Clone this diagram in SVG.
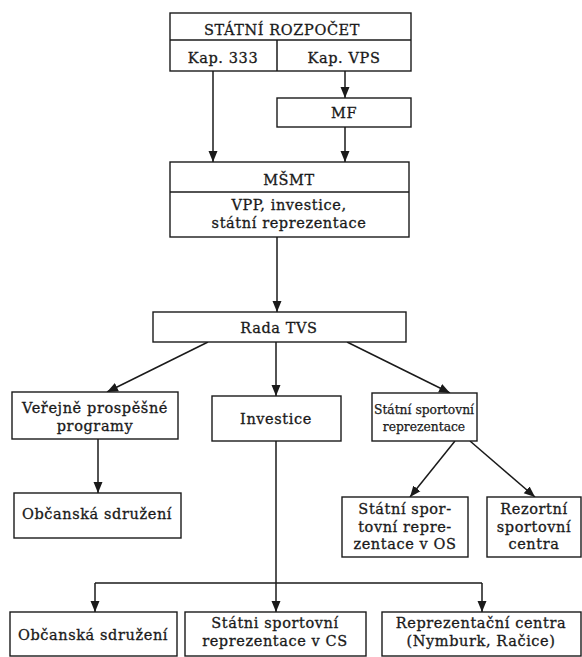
<svg xmlns="http://www.w3.org/2000/svg" width="582" height="657" viewBox="0 0 582 657">
<style>
.b{fill:#fff;stroke:#1a1a1a;stroke-width:1.4}
.t{font-family:"DejaVu Serif","Liberation Serif",serif;font-size:14.5px;letter-spacing:0.6px;fill:#1a1a1a;stroke:#1a1a1a;stroke-width:0.3;text-anchor:middle}
.s{font-size:12.3px;letter-spacing:0;stroke-width:0.25}
.c{stroke:#1a1a1a;stroke-width:1.5;fill:none}
</style>
<defs>
<marker id="a" markerUnits="userSpaceOnUse" markerWidth="12" markerHeight="12" viewBox="0 0 12 12" refX="11" refY="6" orient="auto">
<path d="M0,1.5 L11,6 L0,10.5 Z" fill="#1a1a1a"/>
</marker>
</defs>
<rect width="582" height="657" fill="#fff"/>
<g id="connectors">
<line class="c" x1="213" y1="71" x2="213" y2="162" marker-end="url(#a)"/>
<line class="c" x1="345" y1="71" x2="345" y2="98" marker-end="url(#a)"/>
<line class="c" x1="345" y1="127" x2="345" y2="162" marker-end="url(#a)"/>
<line class="c" x1="277" y1="237" x2="277" y2="312" marker-end="url(#a)"/>
<line class="c" x1="208" y1="342" x2="107" y2="392" marker-end="url(#a)"/>
<line class="c" x1="276" y1="342" x2="276" y2="396" marker-end="url(#a)"/>
<line class="c" x1="347" y1="342" x2="450" y2="393" marker-end="url(#a)"/>
<line class="c" x1="98" y1="439" x2="98" y2="493" marker-end="url(#a)"/>
<line class="c" x1="455" y1="441" x2="410" y2="497" marker-end="url(#a)"/>
<line class="c" x1="470" y1="441" x2="535" y2="497" marker-end="url(#a)"/>
<line class="c" x1="276" y1="441" x2="276" y2="612" marker-end="url(#a)"/>
<line class="c" x1="95" y1="583" x2="482" y2="583"/>
<line class="c" x1="95" y1="583" x2="95" y2="612" marker-end="url(#a)"/>
<line class="c" x1="482" y1="583" x2="482" y2="612" marker-end="url(#a)"/>
</g>
<g id="statni-rozpocet">
<rect class="b" x="170" y="13" width="241" height="58"/>
<line class="c" x1="170" y1="40" x2="411" y2="40" stroke-width="1.4"/>
<line class="c" x1="277" y1="40" x2="277" y2="71" stroke-width="1.4"/>
<text class="t" x="282" y="35" letter-spacing="1.6">STÁTNÍ ROZPOČET</text>
<text class="t" x="223" y="63">Kap. 333</text>
<text class="t" x="344" y="63">Kap. VPS</text>
</g>
<g id="mf">
<rect class="b" x="277" y="98" width="134" height="29"/>
<text class="t" x="344" y="118">MF</text>
</g>
<g id="msmt">
<rect class="b" x="170" y="162" width="239" height="75"/>
<line class="c" x1="170" y1="192" x2="409" y2="192" stroke-width="1.4"/>
<text class="t" x="289" y="185">MŠMT</text>
<text class="t" x="289" y="210">VPP, investice,</text>
<text class="t" x="289" y="228">státní reprezentace</text>
</g>
<g id="rada-tvs">
<rect class="b" x="153" y="312" width="253" height="30"/>
<text class="t" x="279" y="333">Rada TVS</text>
</g>
<g id="verejne">
<rect class="b" x="12" y="392" width="166" height="47"/>
<text class="t" x="95" y="413">Veřejně prospěšné</text>
<text class="t" x="95" y="431">programy</text>
</g>
<g id="investice">
<rect class="b" x="212" y="396" width="129" height="45"/>
<text class="t" x="276" y="424">Investice</text>
</g>
<g id="ssr">
<rect class="b" x="372" y="393" width="105" height="48"/>
<text class="t s" x="424" y="414">Státní sportovní</text>
<text class="t s" x="424" y="431">reprezentace</text>
</g>
<g id="obcanska1">
<rect class="b" x="14" y="493" width="167" height="45"/>
<text class="t" x="97" y="519">Občanská sdružení</text>
</g>
<g id="ssr-os">
<rect class="b" x="342" y="497" width="126" height="60"/>
<text class="t" x="405" y="514">Státní spor-</text>
<text class="t" x="405" y="531.5">tovní repre-</text>
<text class="t" x="405" y="549">zentace v OS</text>
</g>
<g id="rezortni">
<rect class="b" x="487" y="497" width="94" height="60"/>
<text class="t" x="534" y="514">Rezortní</text>
<text class="t" x="534" y="531.5">sportovní</text>
<text class="t" x="534" y="549">centra</text>
</g>
<g id="obcanska2">
<rect class="b" x="10" y="612" width="167" height="44"/>
<text class="t" x="93" y="640">Občanská sdružení</text>
</g>
<g id="ssr-cs">
<rect class="b" x="185" y="612" width="181" height="44"/>
<text class="t" x="275" y="628">Státni sportovní</text>
<text class="t" x="275" y="646">reprezentace v CS</text>
</g>
<g id="repre-centra">
<rect class="b" x="382" y="612" width="199" height="44"/>
<text class="t" x="481" y="628">Reprezentační centra</text>
<text class="t" x="481" y="646">(Nymburk, Račice)</text>
</g>
</svg>
